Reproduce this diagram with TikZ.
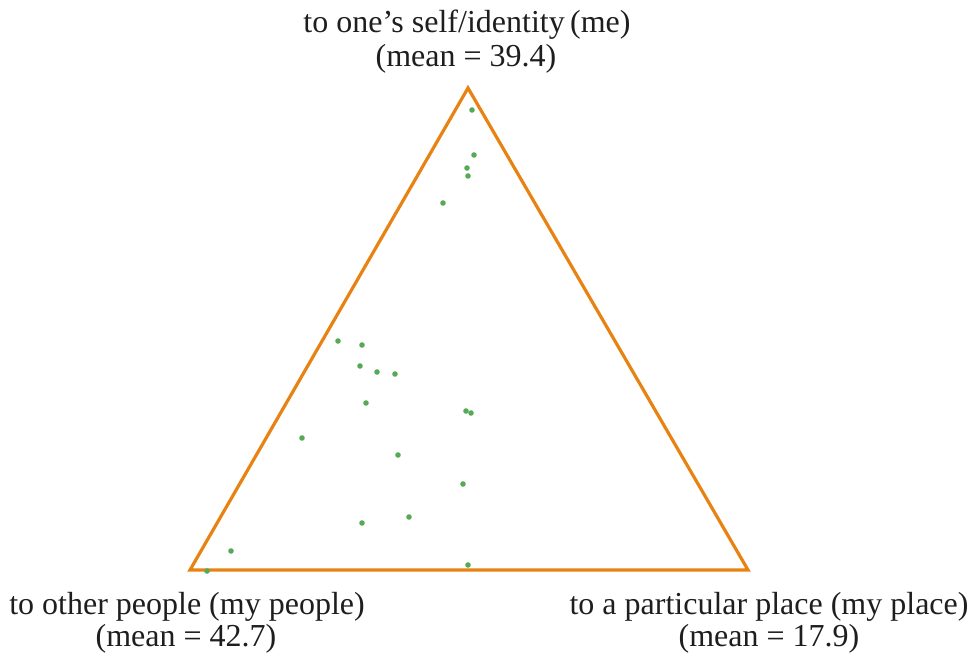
\documentclass[tikz,border=0pt]{standalone}
\usepackage{fontspec}
\setmainfont{Liberation Serif}
\definecolor{edgeorange}{RGB}{232,130,18}
\definecolor{dotgreen}{RGB}{85,170,85}
\definecolor{labelink}{RGB}{30,30,30}
\tikzset{
  vertexlabel/.style={anchor=base, inner sep=0pt, text=labelink,
    font=\fontsize{32}{34}\selectfont},
  scoredot/.style={fill=dotgreen, draw=none},
}
\begin{document}
\begin{tikzpicture}[x=1pt, y=-1pt]
  \useasboundingbox (0,0) rectangle (975,658);
  % corners of the ternary triangle
  \coordinate (me) at (468,88);
  \coordinate (people) at (190,570);
  \coordinate (place) at (748,570);
  \draw[edgeorange, line width=3.2pt, line join=miter] (me) -- (people) -- (place) -- cycle;

  % individual respondents
  \foreach \px/\py in {472/110, 474/155, 467/168, 468/176, 443/203,
      338/341, 362/345, 360/366, 377/372, 395/374, 366/403,
      466/411, 471/413, 302/438, 398/455, 463/484,
      409/517, 362/523, 231/551, 207/571, 468/565}
    \fill[scoredot] (\px,\py) circle (2.8pt);

  % vertex labels
  \node[vertexlabel] (meA) at (467,33) {to one’s self/identity\,(me)};
  \node[vertexlabel] (meB) at (466,67) {(mean = 39.4)};
  \node[vertexlabel] (peopleA) at (187,614) {to other people (my people)};
  \node[vertexlabel] (peopleB) at (186,646) {(mean = 42.7)};
  \node[vertexlabel] (placeA) at (769,614) {to a particular place (my place)};
  \node[vertexlabel] (placeB) at (769,646) {(mean = 17.9)};
\end{tikzpicture}
\end{document}
